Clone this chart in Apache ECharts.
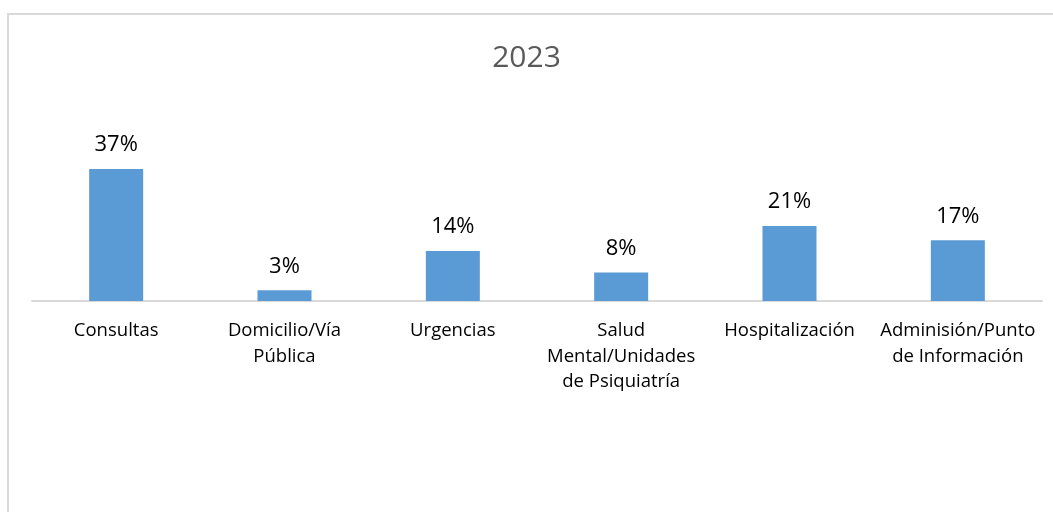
<!DOCTYPE html>
<html>
<head>
<meta charset="utf-8">
<script src="https://cdn.jsdelivr.net/npm/echarts@6/dist/echarts.min.js"></script>
<style>
html,body{margin:0;padding:0;background:#fff;}
#chart{width:1053px;height:512px;}
</style>
</head>
<body>
<div id="chart"></div>
<script>
const chartTitle = '2023';
const categories = ['Consultas', 'Domicilio/Vía\nPública', 'Urgencias', 'Salud\nMental/Unidades\nde Psiquiatría', 'Hospitalización', 'Adminisión/Punto\nde Información'];
const values = [0.37, 0.03, 0.14, 0.08, 0.21, 0.17];

const chart = echarts.init(document.getElementById('chart'));
const font = '"Open Sans", Lato, sans-serif';
chart.setOption({
  animation: false,
  backgroundColor: '#ffffff',
  graphic: [{
    type: 'rect',
    shape: { x: 8, y: 14, width: 1200, height: 700 },
    style: { fill: 'none', stroke: '#d9d9d9', lineWidth: 2 },
    silent: true
  }],
  title: {
    text: chartTitle,
    left: 'center',
    top: 38,
    textStyle: { fontFamily: font, fontSize: 30, fontWeight: 'normal', color: '#595959' }
  },
  grid: { left: 32, right: 11, top: 158.3, bottom: 211, containLabel: false },
  xAxis: {
    type: 'category',
    data: categories,
    axisLine: { lineStyle: { color: '#d9d9d9', width: 2 } },
    axisTick: { show: false },
    axisLabel: {
      interval: 0,
      margin: 17,
      fontFamily: font,
      fontSize: 18.5,
      color: '#000000',
      lineHeight: 25.5,
      align: 'center'
    }
  },
  yAxis: {
    type: 'value',
    min: 0,
    max: 0.4,
    show: false,
    splitLine: { show: false }
  },
  series: [{
    type: 'bar',
    data: values,
    barWidth: 54,
    itemStyle: { color: '#5b9bd5' },
    label: {
      show: true,
      position: 'top',
      distance: 13,
      fontFamily: font,
      fontSize: 22,
      color: '#000000',
      formatter: p => Math.round(p.value * 100) + '%'
    }
  }]
});
</script>
</body>
</html>
